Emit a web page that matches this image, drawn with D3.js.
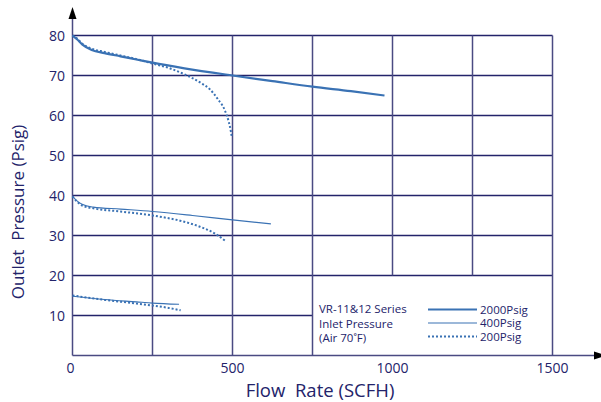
<!DOCTYPE html>
<html><head><meta charset="utf-8">
<script src="https://d3js.org/d3.v7.min.js"></script>
<style>body{margin:0;background:#fff}svg{display:block}</style>
</head><body>
<script>
const xTicks = [0, 500, 1000, 1500];
const yTicks = [10, 20, 30, 40, 50, 60, 70, 80];
const xGrid = [250, 500, 750, 1000, 1250, 1500];
const series2000 = [[0,80],[15,79],[30,77.8],[60,76.4],[100,75.6],[150,74.8],[200,74],[250,73.2],[350,71.8],[500,70],[625,68.6],[750,67.2],[870,66.1],[975,65]];
const series200a = [[0,80],[15,79.2],[30,78],[60,76.7],[100,75.9],[150,75],[200,74.1],[250,73],[300,71.9],[350,70.3],[400,68.2],[430,66.5],[455,64],[475,61.5],[488,58.5],[495,56],[498,54.5]];
const series400 = [[0,39.8],[15,38.6],[30,37.8],[65,37.1],[150,36.6],[250,36],[375,35],[500,33.9],[620,32.9]];
const series200b = [[0,39.8],[15,38.4],[30,37.5],[65,36.8],[150,36],[250,35],[336,33.7],[398,32.2],[445,30.5],[478,28.6]];
const series400low = [[0,14.8],[100,14],[200,13.4],[250,13.1],[333,12.8]];
const series200low = [[0,15],[100,13.9],[200,13],[250,12.5],[300,11.9],[338,11.3]];
const legendNames = ["2000Psig", "400Psig", "200Psig"];
const noteLines = ["VR-11&12 Series", "Inlet Pressure", "(Air 70˚F)"];

const W = 601, H = 402;
const svg = d3.select("body").append("svg").attr("width", W).attr("height", H)
  .style("font-family", "'Open Sans', 'Noto Sans', sans-serif");
const x = d3.scaleLinear().domain([0, 1500]).range([72.5, 552.5]);
const y = d3.scaleLinear().domain([0, 80]).range([355.5, 35.5]);
const navy = "#23236a", grid = "#4a4a82", curve = "#3a72b4";

// horizontal grid
yTicks.forEach(v => {
  const x2 = v <= 10 ? x(750) : x(1500);
  svg.append("line").attr("x1", x(0)).attr("x2", x2).attr("y1", y(v)).attr("y2", y(v))
    .attr("stroke", navy).attr("stroke-width", 1.3);
});
// vertical grid
xGrid.forEach(v => {
  const yb = (v > 750 && v < 1500) ? y(20) : y(0);
  svg.append("line").attr("x1", x(v)).attr("x2", x(v)).attr("y1", y(80)).attr("y2", yb)
    .attr("stroke", grid).attr("stroke-width", 1.5);
});
// axes
svg.append("line").attr("x1", x(0)).attr("x2", x(0)).attr("y1", y(0)).attr("y2", 14)
  .attr("stroke", grid).attr("stroke-width", 1.5);
svg.append("line").attr("x1", x(0)).attr("x2", 598).attr("y1", y(0)).attr("y2", y(0))
  .attr("stroke", grid).attr("stroke-width", 1.5);
svg.append("path").attr("d", `M${x(0)},7 L${x(0)-4},19 L${x(0)+4},19 Z`).attr("fill", "#000");
svg.append("path").attr("d", `M606,${y(0)} L594,${y(0)-4} L594,${y(0)+4} Z`).attr("fill", "#000");

// tick labels
svg.selectAll(".yt").data(yTicks).enter().append("text")
  .attr("x", 65).attr("y", d => y(d) + 5).attr("text-anchor", "end")
  .attr("font-size", 14).attr("fill", navy).text(d => d);
svg.selectAll(".xt").data(xTicks).enter().append("text")
  .attr("x", (d, i) => i === 0 ? x(d) - 2 : x(d)).attr("y", 373).attr("text-anchor", "middle")
  .attr("font-size", 14).attr("fill", navy).text(d => d);

// axis titles
svg.append("text").attr("x", 320).attr("y", 397).attr("text-anchor", "middle")
  .attr("font-size", 18.5).attr("fill", navy).attr("xml:space", "preserve").text("Flow  Rate (SCFH)");
svg.append("text").attr("transform", "translate(24,212) rotate(-90)").attr("text-anchor", "middle")
  .attr("font-size", 17).attr("fill", navy).attr("xml:space", "preserve").text("Outlet  Pressure (Psig)");

// curves
const line = d3.line().x(d => x(d[0])).y(d => y(d[1])).curve(d3.curveMonotoneX);
const solidThick = [series2000], solidThin = [series400, series400low], dotted = [series200a, series200b, series200low];
solidThick.forEach(s => svg.append("path").attr("d", line(s)).attr("fill", "none").attr("stroke", curve).attr("stroke-width", 2.2));
solidThin.forEach(s => svg.append("path").attr("d", line(s)).attr("fill", "none").attr("stroke", curve).attr("stroke-width", 1.1));
dotted.forEach(s => svg.append("path").attr("d", line(s)).attr("fill", "none").attr("stroke", curve).attr("stroke-width", 2).attr("stroke-dasharray", "2,2"));

// legend note
noteLines.forEach((t, i) => svg.append("text").attr("x", 319).attr("y", 313 + i * 14.5)
  .attr("font-size", 11.5).attr("fill", navy).text(t));
const legY = [309.5, 323, 336.5];
const legStyle = [{w: 2.2, d: null}, {w: 1.1, d: null}, {w: 2, d: "2,2"}];
legendNames.forEach((n, i) => {
  svg.append("line").attr("x1", 428).attr("x2", 477).attr("y1", legY[i]).attr("y2", legY[i])
    .attr("stroke", curve).attr("stroke-width", legStyle[i].w).attr("stroke-dasharray", legStyle[i].d);
  svg.append("text").attr("x", 480).attr("y", legY[i] + 4).attr("font-size", 11.5).attr("fill", navy).text(n);
});
</script>
</body></html>
